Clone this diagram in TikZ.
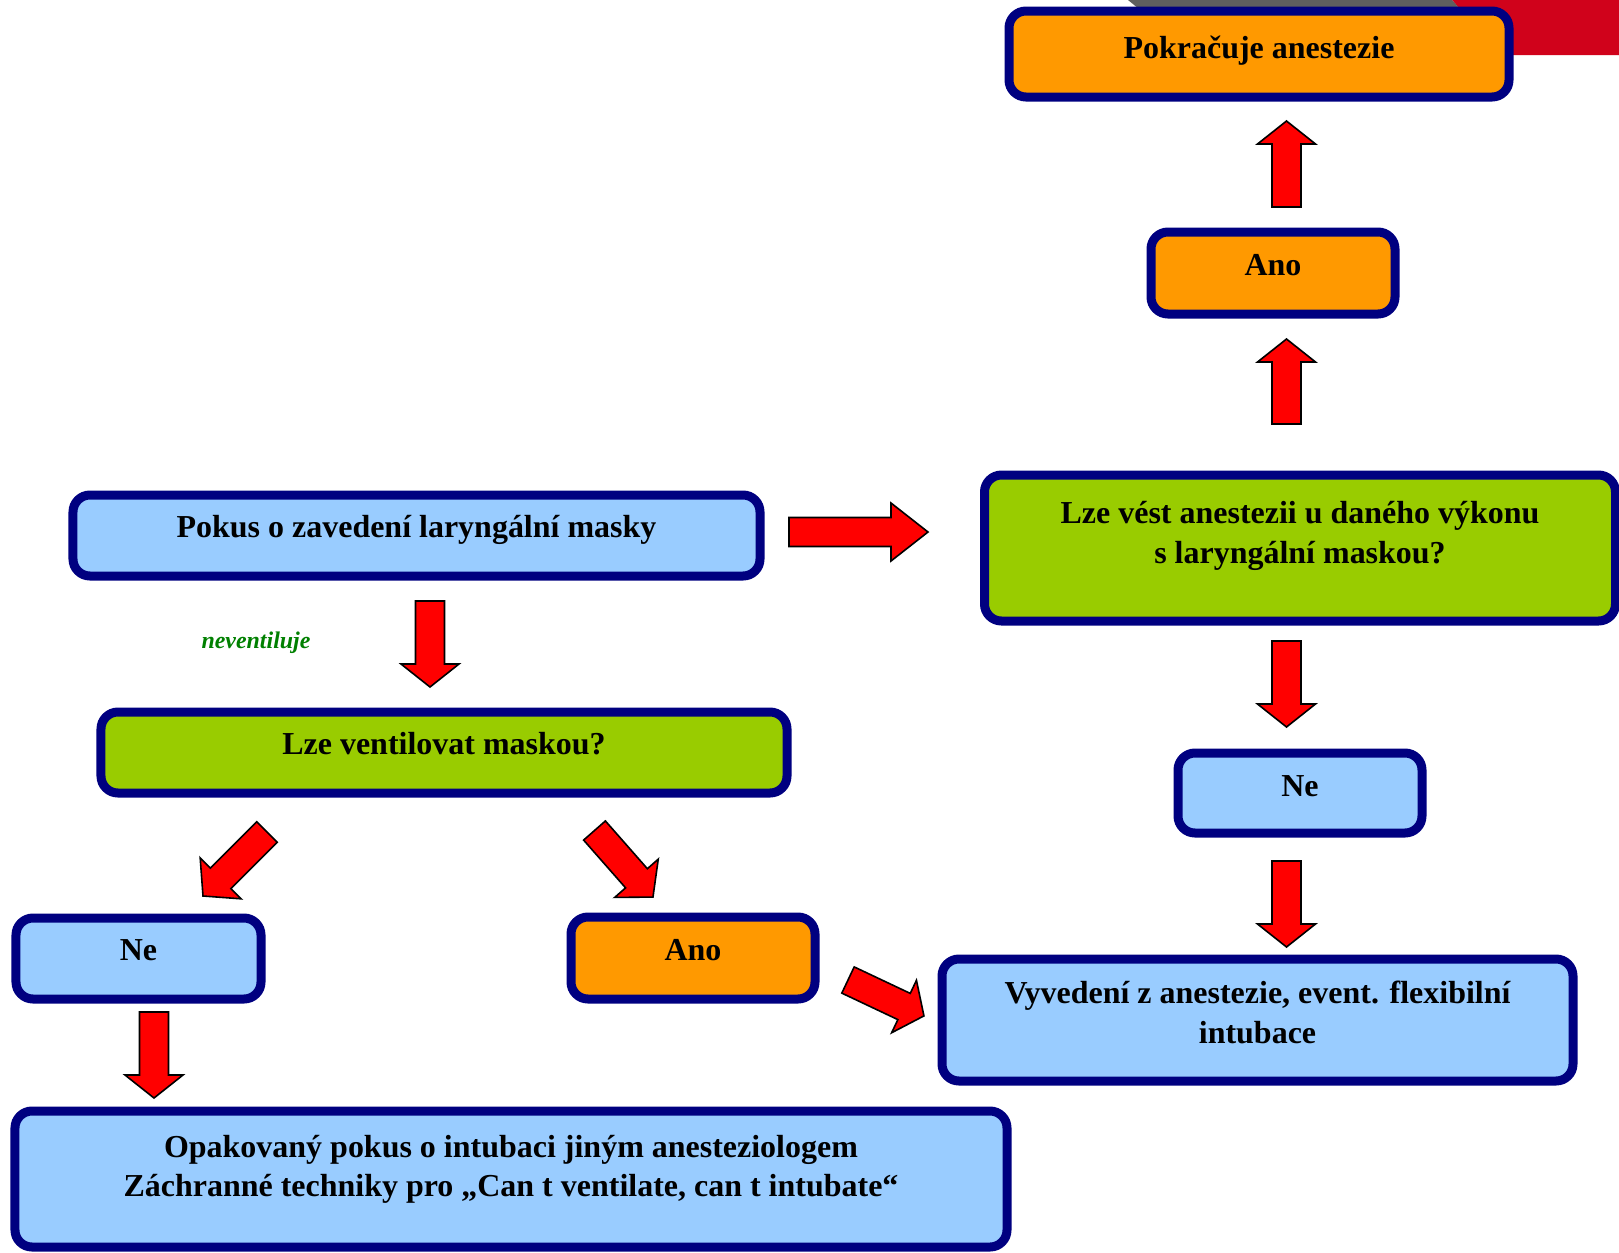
\documentclass[tikz,border=0pt]{standalone}
\usepackage{fontspec}
\setmainfont{Liberation Serif}
\definecolor{lblue}{HTML}{99CCFF}
\definecolor{orng}{HTML}{FF9900}
\definecolor{lgreen}{HTML}{99CC00}
\definecolor{navy}{HTML}{000080}
\definecolor{txtgreen}{HTML}{008000}
\definecolor{topgray}{HTML}{5F5F5F}
\definecolor{topred}{HTML}{D0021B}
\tikzset{
  box/.style={draw=navy, line width=9bp, rounded corners=17bp, inner sep=0pt},
  bluebox/.style={box, fill=lblue},
  orangebox/.style={box, fill=orng},
  greenbox/.style={box, fill=lgreen},
  boxtext/.style={anchor=base, inner sep=0pt, align=center,
    font=\bfseries\fontsize{32.1}{39.5}\selectfont},
  notetext/.style={anchor=base, inner sep=0pt, text=txtgreen,
    font=\bfseries\itshape\fontsize{24}{28}\selectfont},
  blockarrow/.style={fill=red, draw=black, line width=1.6bp, line join=miter}
}
% #1 tail x, #2 tail y, #3 canvas angle, #4 total length, #5 head length
\newcommand{\blockarr}[5]{%
  \draw[blockarrow, shift={(#1,#2)}, rotate=#3]
    (0,-14.5) -- ({#4-#5},-14.5) -- ({#4-#5},-29) -- (#4,0)
    -- ({#4-#5},29) -- ({#4-#5},14.5) -- (0,14.5) -- cycle;}
\begin{document}
\begin{tikzpicture}[x=1bp, y=-1bp]
\useasboundingbox (0,0) rectangle (1619,1252);
% decorative corner shapes
\fill[topred] (1452,0) -- (1619,0) -- (1619,55) -- (1500,55) -- cycle;
\fill[topgray] (1128,0) -- (1452,0) -- (1460,9) -- (1139,9) -- cycle;

% boxes (node size = outer size - line width)
\node[orangebox, minimum width=500bp, minimum height=86bp] (cont) at (1259,54) {};
\node[orangebox, minimum width=244bp, minimum height=82bp] (anoT) at (1273,273) {};
\node[greenbox,  minimum width=631bp, minimum height=146bp] (lma) at (1300,548) {};
\node[bluebox,   minimum width=687bp, minimum height=81bp] (pokus) at (416.5,535.5) {};
\node[greenbox,  minimum width=686bp, minimum height=81bp] (vent) at (444,752.5) {};
\node[bluebox,   minimum width=244bp, minimum height=80bp] (neR) at (1300,793) {};
\node[bluebox,   minimum width=245bp, minimum height=81bp] (neL) at (138.5,958.5) {};
\node[orangebox, minimum width=244bp, minimum height=82bp] (anoM) at (693,958) {};
\node[bluebox,   minimum width=631bp, minimum height=122bp] (wake) at (1257.5,1020) {};
\node[bluebox,   minimum width=992bp, minimum height=136bp] (rescue) at (511,1179) {};

% texts
\node[boxtext] (tcont) at ([yshift=-52bp]cont.north) {Pokračuje anestezie};
\node[boxtext] (tanoT) at ([yshift=-48bp]anoT.north) {Ano};
\node[boxtext] (tlma) at ([yshift=-92.5bp]lma.north) {Lze vést anestezii u daného výkonu\\s laryngální maskou?};
\node[boxtext] (tpokus) at ([yshift=-47bp]pokus.north) {Pokus o zavedení laryngální masky};
\node[boxtext] (tvent) at ([yshift=-47bp]vent.north) {Lze ventilovat maskou?};
\node[boxtext] (tneR) at ([yshift=-48bp]neR.north) {Ne};
\node[boxtext] (tneL) at ([yshift=-46.5bp]neL.north) {Ne};
\node[boxtext] (tanoM) at ([yshift=-47.5bp]anoM.north) {Ano};
\node[boxtext] (twake) at ([yshift=-88.5bp]wake.north) {Vyvedení z anestezie, event. flexibilní\\intubace};
\node[boxtext] (trescue) at ([yshift=-90bp]rescue.north) {Opakovaný pokus o intubaci jiným anesteziologem\\Záchranné techniky pro „Can t ventilate, can t intubate“};
\node[notetext] (nevent) at (256,648) {neventiluje};

% block arrows
\blockarr{1286.5}{207}{90}{86}{23}
\blockarr{1286.5}{424}{90}{85}{23}
\blockarr{1286.5}{641}{-90}{86}{23}
\blockarr{1286.5}{861}{-90}{86}{23}
\blockarr{430}{601}{-90}{86}{23}
\blockarr{154}{1012}{-90}{86}{23}
\blockarr{789}{532}{0}{139}{37}
\blockarr{267}{832}{225}{90.5}{25}
\blockarr{594.5}{830.5}{-48.7}{88.6}{25}
\blockarr{848}{980}{-25.3}{84}{22}
\end{tikzpicture}
\end{document}
